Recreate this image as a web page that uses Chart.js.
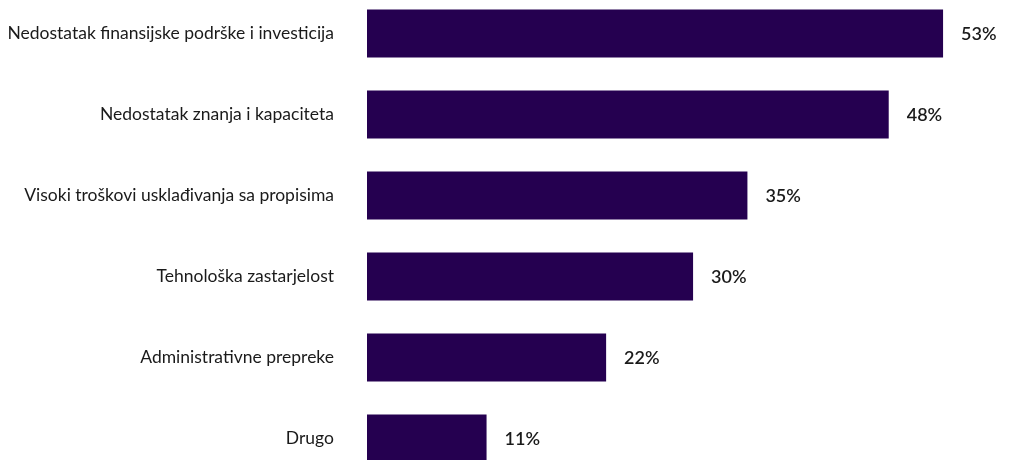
<!DOCTYPE html>
<html>
<head>
<meta charset="utf-8">
<script src="https://cdn.jsdelivr.net/npm/chart.js@4"></script>
<style>
html,body{margin:0;padding:0;background:#fff;overflow:hidden;width:1011px;height:460px;}
#c{position:absolute;left:0;top:-7.5px;}
</style>
</head>
<body>
<canvas id="c" width="1011" height="486"></canvas>
<script>
const categories = [
  "Nedostatak finansijske podrške i investicija",
  "Nedostatak znanja i kapaciteta",
  "Visoki troškovi usklađivanja sa propisima",
  "Tehnološka zastarjelost",
  "Administrativne prepreke",
  "Drugo"
];
const values = [53, 48, 35, 30, 22, 11];

const valueLabels = {
  id: 'valueLabels',
  afterDatasetsDraw(chart) {
    const ctx = chart.ctx;
    const meta = chart.getDatasetMeta(0);
    ctx.save();
    ctx.font = '600 18px Lato';
    ctx.fillStyle = '#1a1a1a';
    ctx.textAlign = 'left';
    ctx.textBaseline = 'middle';
    meta.data.forEach((bar, i) => {
      ctx.fillText(values[i] + '%', bar.x + 18, bar.y + 1);
    });
    ctx.restore();
  }
};

new Chart(document.getElementById('c'), {
  type: 'bar',
  data: {
    labels: categories,
    datasets: [{
      data: values,
      backgroundColor: '#250050',
      borderWidth: 0,
      barPercentage: 48/81,
      categoryPercentage: 1
    }]
  },
  options: {
    indexAxis: 'y',
    responsive: false,
    maintainAspectRatio: false,
    animation: false,
    layout: { padding: 0 },
    plugins: { legend: { display: false }, tooltip: { enabled: false } },
    scales: {
      x: {
        display: false,
        min: 0,
        max: 59.25
      },
      y: {
        grid: { display: false, drawTicks: false },
        border: { display: false },
        ticks: {
          padding: 33,
          color: '#1a1a1a',
          font: { family: 'Lato', size: 17.5 }
        },
        afterFit(scale) {
          scale.width = 367;
          scale.paddingTop = 0;
          scale.paddingBottom = 0;
        }
      }
    }
  },
  plugins: [valueLabels]
});
</script>
</body>
</html>
